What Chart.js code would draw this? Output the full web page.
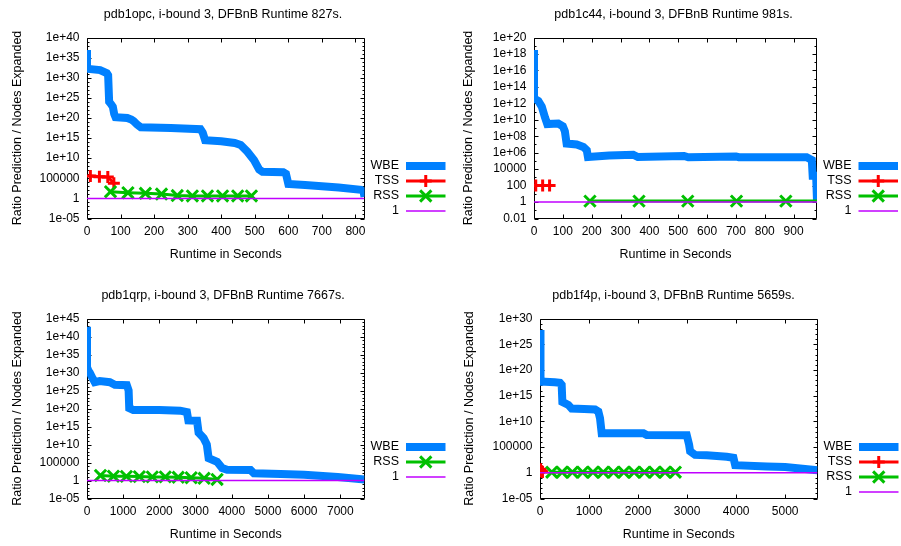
<!DOCTYPE html>
<html><head><meta charset="utf-8">
<script src="https://cdn.jsdelivr.net/npm/chart.js@4.4.1/dist/chart.umd.min.js"></script>
<style>
html,body{margin:0;padding:0;background:#fff;}
#wrap{position:relative;width:901px;height:546px;overflow:hidden;background:#fff;}
canvas{position:absolute;}
</style></head><body>
<div id="wrap">
<canvas id="c1" width="450" height="273" style="left:0;top:0;width:450px;height:273px"></canvas>
<canvas id="c2" width="451" height="273" style="left:450px;top:0;width:451px;height:273px"></canvas>
<canvas id="c3" width="450" height="273" style="left:0;top:273px;width:450px;height:273px"></canvas>
<canvas id="c4" width="451" height="273" style="left:450px;top:273px;width:451px;height:273px"></canvas>
</div>
<script>
// ---------- Panel 1: pdb1opc ----------
const p1Title = "pdb1opc, i-bound 3, DFBnB Runtime 827s.";
const p1XTicks = [0,100,200,300,400,500,600,700,800];
const p1YTicks = [1e-5,1,1e5,1e10,1e15,1e20,1e25,1e30,1e35,1e40];
const p1WbeX = [0,0,5,39,59,63,66,72,77,81,85,120,132,139,150,160,250,338,345,352,400,440,458,478,498,513,523,585,593,600,650,750,817,824,827];
const p1WbeY = [8e36,3e32,1.6e32,8e31,1.3e31,4e30,1e24,2.5e23,6e22,1e21,1.6e20,1e20,4e19,1.6e19,2e18,5e17,3e17,1.6e17,2e16,3e14,1.6e14,6e13,2e13,4e11,3e9,1.6e7,4e6,3e6,1.3e6,4e3,2e3,500,130,60,2.5];
const p1TssX = [10,37,62,80];
const p1TssY = [3.5e5,2.5e5,2e5,6e3];
const p1RssX = [70,122,174,222,269,314,359,404,449,490];
const p1RssY = [46,26,18,12,5,4,4,4,4,4];
const p1OneX = [0,827];
const p1OneY = [1,1];

// ---------- Panel 2: pdb1c44 ----------
const p2Title = "pdb1c44, i-bound 3, DFBnB Runtime 981s.";
const p2XTicks = [0,100,200,300,400,500,600,700,800,900];
const p2YTicks = [0.01,1,100,1e4,1e6,1e8,1e10,1e12,1e14,1e16,1e18,1e20];
const p2WbeX = [0,0,15,27,38,46,84,100,107,113,148,171,183,187,260,344,360,520,535,700,710,945,963,966,978,981];
const p2WbeY = [3e18,4e12,2e12,4e11,2e10,3e9,3.5e9,1.6e9,4e8,1.3e7,1e7,5e6,2e6,3e5,4.5e5,5.6e5,3e5,4e5,2.8e5,3.5e5,2.8e5,2.8e5,1.3e5,1.6e3,1.6e3,1.3];
const p2TssX = [6,30,54];
const p2TssY = [100,100,100];
const p2RssX = [194,364,533,702,873,981];
const p2RssY = [1.3,1.3,1.3,1.3,1.3,1.3];
const p2OneX = [0,981];
const p2OneY = [1,1];

// ---------- Panel 3: pdb1qrp ----------
const p3Title = "pdb1qrp, i-bound 3, DFBnB Runtime 7667s.";
const p3XTicks = [0,1000,2000,3000,4000,5000,6000,7000];
const p3YTicks = [1e-5,1,1e5,1e10,1e15,1e20,1e25,1e30,1e35,1e40,1e45];
const p3WbeX = [0,0,40,75,150,214,350,631,770,1100,1150,1167,1278,2000,2575,2761,2800,3040,3083,3222,3310,3361,3594,3733,3872,4519,4611,5353,6000,6928,7667];
const p3WbeY = [5e42,3e31,3e30,1e30,3e28,2e27,4e27,2e27,4e26,3e26,1e25,1.3e20,4e19,4e19,2.5e19,1e19,5e16,4e16,2e13,6e11,1e10,1.6e6,1.6e5,3e3,1e3,800,100,63,40,10,2];
const p3RssX = [372,730,1088,1446,1804,2162,2520,2878,3236,3594];
const p3RssY = [25,16,14,12,10,10,8,6,4,2];
const p3OneX = [0,7667];
const p3OneY = [1,1];

// ---------- Panel 4: pdb1f4p ----------
const p4Title = "pdb1f4p, i-bound 3, DFBnB Runtime 5659s.";
const p4XTicks = [0,1000,2000,3000,4000,5000];
const p4YTicks = [1e-5,1,1e5,1e10,1e15,1e20,1e25,1e30];
const p4WbeX = [0,0,20,40,102,300,408,442,456,578,646,900,1122,1190,1224,1258,2109,2177,2993,3040,3061,3163,3401,3810,3945,3980,4626,5000,5659];
const p4WbeY = [6e27,1e20,3e18,5e17,5e17,4e17,3e17,1.3e17,6e13,1.6e13,3e12,2.5e12,2e12,8e11,4e10,5e7,5e7,2.2e7,2e7,3e5,1.6e4,3e3,2.5e3,1.3e3,800,30,16,13,3];
const p4TssX = [3,10,20,35,50];
const p4TssY = [3,5,2,2,1.5];
const p4RssX = [240,450,660,870,1080,1290,1500,1710,1920,2130,2340,2550,2760];
const p4RssY = [1.3,1.3,1.3,1.3,1.3,1.3,1.3,1.3,1.3,1.3,1.3,1.3,1.3];
const p4OneX = [0,5659];
const p4OneY = [1,1];

const X_TITLE = "Runtime in Seconds";
const Y_TITLE = "Ratio Prediction / Nodes Expanded";

// ---------- styling / rendering ----------
const FONT = '"Liberation Sans", Arial, Helvetica, sans-serif';
const STYLES = {
  WBE: {color:'#0080ff', width:8, point:false, order:3},
  TSS: {color:'#ff0000', width:3, point:'cross', radius:6, order:2},
  RSS: {color:'#00c000', width:3, point:'crossRot', radius:8, order:1},
  '1': {color:'#c000ff', width:1.5, point:false, order:0}
};

function zip(xs, ys){ return xs.map((x,i)=>({x:x, y:ys[i]})); }

function fmtLog(v){
  const e = Math.round(Math.log10(v));
  if (e >= 6 || e <= -5) return '1e' + (e<0?'-':'+') + String(Math.abs(e)).padStart(2,'0');
  if (e >= 0) return String(Math.pow(10,e));
  return Math.pow(10,e).toFixed(-e);
}

const gnuPlugin = {
  id: 'gnu',
  beforeDatasetsDraw(chart, args, o){
    const {ctx, chartArea:a} = chart;
    const xs = chart.scales.x, ys = chart.scales.y;
    ctx.save();
    ctx.strokeStyle = '#000'; ctx.lineWidth = 1;
    const L = Math.round(a.left)+0.5, R = Math.round(a.right)-0.5, T = Math.round(a.top)+0.5, B = Math.round(a.bottom)-0.5;
    ctx.beginPath();
    ctx.rect(L, T, R-L, B-T);
    o.xTicks.forEach(v=>{
      const p = Math.round(xs.getPixelForValue(v))+0.5;
      ctx.moveTo(p,B); ctx.lineTo(p,B-4);
      ctx.moveTo(p,T); ctx.lineTo(p,T+4);
    });
    o.yTicks.forEach(v=>{
      const p = Math.round(ys.getPixelForValue(v))+0.5;
      ctx.moveTo(L,p); ctx.lineTo(L+4,p);
      ctx.moveTo(R,p); ctx.lineTo(R-4,p);
    });
    const e0 = Math.round(Math.log10(ys.min)), e1 = Math.round(Math.log10(ys.max));
    const majors = o.yTicks.map(v=>Math.round(Math.log10(v)));
    for (let e=e0; e<=e1; e++){
      if (majors.includes(e)) continue;
      const p = Math.round(ys.getPixelForValue(Math.pow(10,e)))+0.5;
      ctx.moveTo(L,p); ctx.lineTo(L+2,p);
      ctx.moveTo(R,p); ctx.lineTo(R-2,p);
    }
    ctx.stroke();
    ctx.restore();
  },
  afterDraw(chart, args, o){
    const {ctx, chartArea:a} = chart;
    ctx.save();
    ctx.fillStyle = '#000';
    ctx.font = '12.5px ' + FONT;
    ctx.textAlign = 'center'; ctx.textBaseline = 'middle';
    ctx.fillText(o.title, chart.width/2 - 2, a.top - 22.5);
    o.legend.forEach((name, i)=>{
      const st = STYLES[name];
      const y = a.top + 128.5 + 15*i;
      ctx.fillStyle = '#000';
      ctx.textAlign = 'right';
      ctx.fillText(name, a.right + 34.5, y);
      const x0 = a.right + 41.5, x1 = a.right + 81;
      ctx.strokeStyle = st.color; ctx.lineWidth = st.width; ctx.lineCap = 'butt';
      ctx.beginPath(); ctx.moveTo(x0, y); ctx.lineTo(x1, y); ctx.stroke();
      if (st.point){
        const cx = (x0+x1)/2, r = st.radius;
        ctx.lineWidth = 3;
        ctx.beginPath();
        if (st.point === 'cross'){
          ctx.moveTo(cx-r, y); ctx.lineTo(cx+r, y);
          ctx.moveTo(cx, y-r); ctx.lineTo(cx, y+r);
        } else {
          const d = r*Math.SQRT1_2;
          ctx.moveTo(cx-d, y-d); ctx.lineTo(cx+d, y+d);
          ctx.moveTo(cx-d, y+d); ctx.lineTo(cx+d, y-d);
        }
        ctx.stroke();
      }
    });
    ctx.restore();
  }
};

function makeChart(id, p){
  const cv = document.getElementById(id);
  const W = cv.width, H = cv.height;
  const datasets = p.series.map(s=>{
    const st = STYLES[s.name];
    const n = s.x.length;
    return {
      label: s.name,
      data: zip(s.x, s.y),
      borderColor: st.color,
      backgroundColor: st.color,
      borderWidth: st.width,
      borderJoinStyle: 'miter',
      borderCapStyle: 'butt',
      tension: 0,
      order: st.order,
      pointStyle: st.point || 'circle',
      pointRadius: st.point ? (ctx => (s.noLastMarker && ctx.dataIndex === n-1) ? 0 : st.radius) : 0,
      pointBorderWidth: 3,
      pointBorderColor: st.color,
      pointBackgroundColor: st.color,
      pointHoverRadius: 0
    };
  });
  const a = p.area;
  return new Chart(cv, {
    type: 'line',
    data: {datasets},
    plugins: [gnuPlugin],
    options: {
      responsive: false,
      devicePixelRatio: 1,
      animation: false,
      events: [],
      layout: {padding: {left: 0, top: a.t, right: W - a.r, bottom: 0}},
      plugins: {
        legend: {display: false},
        title: {display: false},
        tooltip: {enabled: false},
        gnu: {title: p.title, legend: p.legend, xTicks: p.xTicks, yTicks: p.yTicks}
      },
      scales: {
        x: {
          type: 'linear', min: 0, max: p.xMax, bounds: 'data',
          grid: {display: false, drawTicks: false}, border: {display: false},
          afterBuildTicks: sc => { sc.ticks = p.xTicks.map(v=>({value:v})); },
          afterFit: sc => { sc.height = H - a.b; },
          ticks: {autoSkip: false, maxRotation: 0, padding: 6, color: '#000', font: {family: FONT, size: 12},
                  callback: v => String(v)},
          title: {display: true, text: X_TITLE, color: '#000', font: {family: FONT, size: 12.5},
                  padding: {top: 0, bottom: (H - a.b) - 36 - 7.5}}
        },
        y: {
          type: 'logarithmic', min: p.yMin, max: p.yMax, bounds: 'data',
          grid: {display: false, drawTicks: false}, border: {display: false},
          afterBuildTicks: sc => { sc.ticks = p.yTicks.map(v=>({value:v})); },
          afterFit: sc => { sc.width = a.l; },
          ticks: {autoSkip: false, padding: 7.5, color: '#000', font: {family: FONT, size: 12},
                  callback: v => fmtLog(v)},
          title: {display: true, text: Y_TITLE, color: '#000', font: {family: FONT, size: 12.5},
                  padding: {top: p.yTitleX - 7.5, bottom: 0}}
        }
      }
    }
  });
}

makeChart('c1', {
  title: p1Title, xMax: 827, xTicks: p1XTicks, yMin: 1e-5, yMax: 1e40, yTicks: p1YTicks,
  area: {l: 87, t: 37.5, r: 364.5, b: 218.5}, yTitleX: 18,
  legend: ['WBE','TSS','RSS','1'],
  series: [
    {name:'WBE', x:p1WbeX, y:p1WbeY},
    {name:'TSS', x:p1TssX, y:p1TssY},
    {name:'RSS', x:p1RssX, y:p1RssY},
    {name:'1', x:p1OneX, y:p1OneY}
  ]
});
makeChart('c2', {
  title: p2Title, xMax: 981, xTicks: p2XTicks, yMin: 0.01, yMax: 1e20, yTicks: p2YTicks,
  area: {l: 84, t: 37.5, r: 367, b: 218.5}, yTitleX: 19,
  legend: ['WBE','TSS','RSS','1'],
  series: [
    {name:'WBE', x:p2WbeX, y:p2WbeY},
    {name:'TSS', x:p2TssX, y:p2TssY},
    {name:'RSS', x:p2RssX, y:p2RssY, noLastMarker: true},
    {name:'1', x:p2OneX, y:p2OneY}
  ]
});
makeChart('c3', {
  title: p3Title, xMax: 7667, xTicks: p3XTicks, yMin: 1e-5, yMax: 1e45, yTicks: p3YTicks,
  area: {l: 87, t: 45.5, r: 364.5, b: 225.5}, yTitleX: 18,
  legend: ['WBE','RSS','1'],
  series: [
    {name:'WBE', x:p3WbeX, y:p3WbeY},
    {name:'RSS', x:p3RssX, y:p3RssY},
    {name:'1', x:p3OneX, y:p3OneY}
  ]
});
makeChart('c4', {
  title: p4Title, xMax: 5659, xTicks: p4XTicks, yMin: 1e-5, yMax: 1e30, yTicks: p4YTicks,
  area: {l: 90, t: 45.5, r: 367.5, b: 225.5}, yTitleX: 20,
  legend: ['WBE','TSS','RSS','1'],
  series: [
    {name:'WBE', x:p4WbeX, y:p4WbeY},
    {name:'TSS', x:p4TssX, y:p4TssY},
    {name:'RSS', x:p4RssX, y:p4RssY},
    {name:'1', x:p4OneX, y:p4OneY}
  ]
});
</script>
</body></html>
